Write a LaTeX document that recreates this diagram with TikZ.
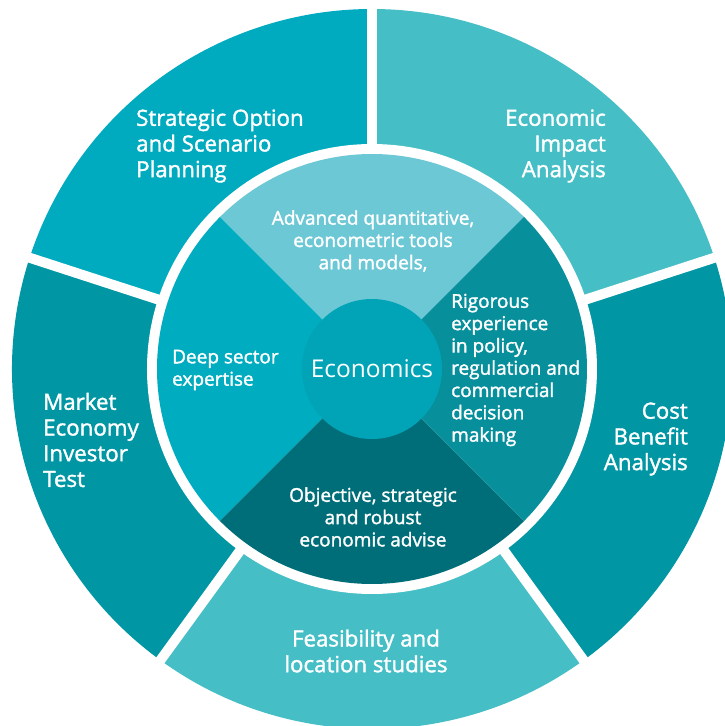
\documentclass[tikz,border=0pt]{standalone}
\usepackage{fontspec}
\setmainfont{Open Sans}
\newfontfamily\labelfont{Open Sans}[FakeBold=1.6]
\usepackage{xcolor}
\usepackage{tikz}

\definecolor{stratcol}{HTML}{00ABBF}
\definecolor{impactcol}{HTML}{45BEC6}
\definecolor{costcol}{HTML}{0096A3}
\definecolor{feascol}{HTML}{45BEC6}
\definecolor{marketcol}{HTML}{0096A3}
\definecolor{quadtop}{HTML}{6DC8D6}
\definecolor{quadleft}{HTML}{00ACC0}
\definecolor{quadright}{HTML}{078F9B}
\definecolor{quadbottom}{HTML}{006E79}
\definecolor{corecol}{HTML}{00A4B6}

\tikzset{
	outerlabel/.style={text=white, font=\labelfont\fontsize{22.3}{25.7}\selectfont, inner sep=0pt},
	innerlabel/.style={text=white, font=\labelfont\fontsize{19}{22.3}\selectfont, inner sep=0pt},
	gap/.style={white, line width=10pt}
}

\begin{document}
\begin{tikzpicture}[x=1pt, y=1pt]
	\useasboundingbox (-372,-357) rectangle (352,369);
	% outer ring
	\fill[stratcol] (0,0) -- (90:360) arc[start angle=90, end angle=162, radius=360] -- cycle;
	\fill[impactcol] (0,0) -- (18:360) arc[start angle=18, end angle=90, radius=360] -- cycle;
	\fill[costcol] (0,0) -- (-54:360) arc[start angle=-54, end angle=18, radius=360] -- cycle;
	\fill[feascol] (0,0) -- (-126:360) arc[start angle=-126, end angle=-54, radius=360] -- cycle;
	\fill[marketcol] (0,0) -- (162:360) arc[start angle=162, end angle=234, radius=360] -- cycle;
	\fill[white] (0,0) circle[radius=225];
	\foreach \a in {18,90,162,234,306}
		\draw[gap] (\a:200) -- (\a:370);
	% middle disc
	\fill[quadtop] (0,0) -- (45:215) arc[start angle=45, end angle=135, radius=215] -- cycle;
	\fill[quadleft] (0,0) -- (135:215) arc[start angle=135, end angle=225, radius=215] -- cycle;
	\fill[quadbottom] (0,0) -- (225:215) arc[start angle=225, end angle=315, radius=215] -- cycle;
	\fill[quadright] (0,0) -- (-45:215) arc[start angle=-45, end angle=45, radius=215] -- cycle;
	\node[circle, fill=corecol, minimum size=140pt, inner sep=0pt, text=white, font=\fontsize{24.5}{28}\selectfont] (econ) at (0,0) {Economics};
	% outer labels
	\node[outerlabel, anchor=west, align=left] (strat) at (-236,223) {Strategic Option\\and Scenario\\Planning};
	\node[outerlabel, anchor=east, align=right] (impact) at (234,223) {Economic\\Impact\\Analysis};
	\node[outerlabel, anchor=east, align=right] (cost) at (316,-70) {Cost\\Benefit\\Analysis};
	\node[outerlabel, anchor=west, align=left] (market) at (-329,-71) {Market\\Economy\\Investor\\Test};
	\node[outerlabel, align=center] (feas) at (-6,-282) {Feasibility and\\location studies};
	% inner labels
	\node[innerlabel, align=center] (advanced) at (1,128) {Advanced quantitative,\\econometric tools\\and models,};
	\node[innerlabel, anchor=west, align=left] (deep) at (-200,-1) {Deep sector\\expertise};
	\node[innerlabel, anchor=west, align=left] (rigorous) at (79,-1) {Rigorous\\experience\\in policy,\\regulation and\\commercial\\decision\\making};
	\node[innerlabel, align=center] (objective) at (1,-148) {Objective, strategic\\and robust\\economic advise};
\end{tikzpicture}
\end{document}
